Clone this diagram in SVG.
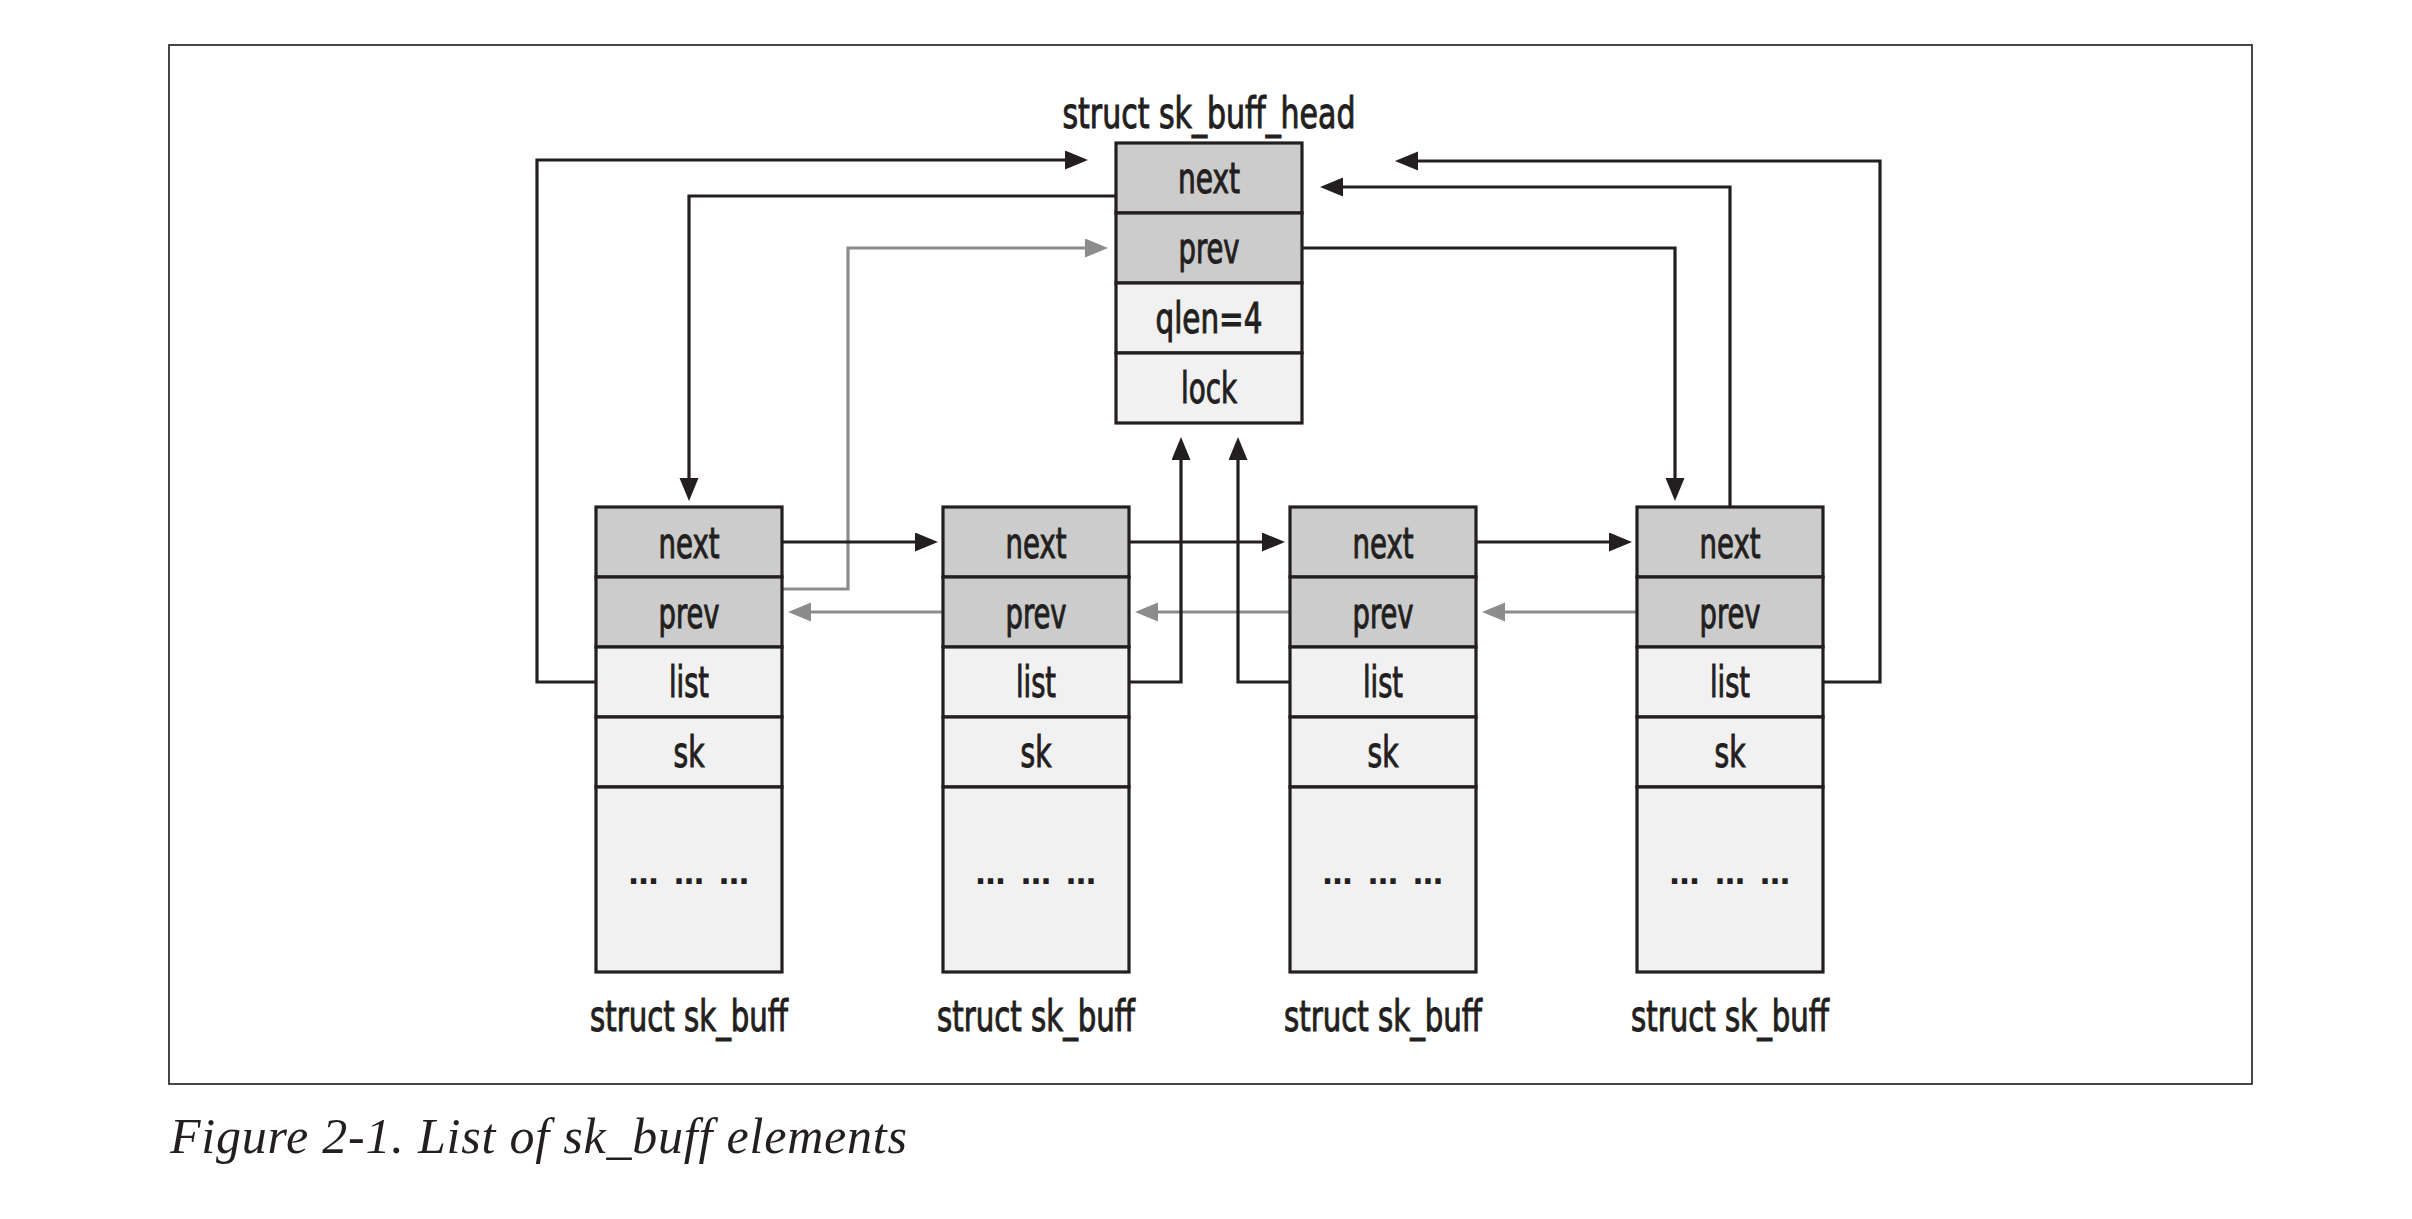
<svg xmlns="http://www.w3.org/2000/svg" width="2412" height="1219" viewBox="0 0 2412 1219">
<style>
.frame{fill:none;stroke:#333;stroke-width:1.8}
.dk{fill:#cccccc;stroke:#231f20;stroke-width:3.2}
.lt{fill:#f1f1f1;stroke:#231f20;stroke-width:3.2}
.t{font-family:"DejaVu Sans Condensed","DejaVu Sans","Liberation Sans Narrow",sans-serif;font-stretch:condensed;font-size:42px;fill:#231f20;stroke:#231f20;stroke-width:1;text-anchor:middle}
.dots{font-family:"DejaVu Sans",sans-serif;font-weight:bold;font-size:30px;fill:#231f20;text-anchor:middle}
.cap{font-family:"Liberation Serif","Times New Roman",serif;font-style:italic;font-size:50px;fill:#231f20}
.b{fill:none;stroke:#231f20;stroke-width:3.2}
.g{fill:none;stroke:#8c8c8c;stroke-width:3.2}
</style>
<defs>
<marker id="ab" markerUnits="userSpaceOnUse" markerWidth="24" markerHeight="20" refX="13" refY="9.5" orient="auto" viewBox="0 0 24 20">
<path d="M0,0 L23,9.5 L0,19 z" fill="#231f20"/>
</marker>
<marker id="ag" markerUnits="userSpaceOnUse" markerWidth="24" markerHeight="20" refX="13" refY="9.5" orient="auto" viewBox="0 0 24 20">
<path d="M0,0 L23,9.5 L0,19 z" fill="#8c8c8c"/>
</marker>
</defs>
<rect class="frame" x="169" y="45" width="2083" height="1039" fill="#fff"/>

<g id="connectors">
<path class="b" d="M596,682 H537 V160 H1078" marker-end="url(#ab)"/>
<path class="b" d="M1116,196 H689 V491" marker-end="url(#ab)"/>
<path class="g" d="M782,589 H848 V248 H1098" marker-end="url(#ag)"/>
<path class="b" d="M782,542 H928" marker-end="url(#ab)"/>
<path class="b" d="M1129,542 H1275" marker-end="url(#ab)"/>
<path class="b" d="M1476,542 H1622" marker-end="url(#ab)"/>
<path class="g" d="M943,612 H798" marker-end="url(#ag)"/>
<path class="g" d="M1290,612 H1145" marker-end="url(#ag)"/>
<path class="g" d="M1637,612 H1492" marker-end="url(#ag)"/>
<path class="b" d="M1129,682 H1181 V447" marker-end="url(#ab)"/>
<path class="b" d="M1290,682 H1238 V447" marker-end="url(#ab)"/>
<path class="b" d="M1302,248 H1675 V491" marker-end="url(#ab)"/>
<path class="b" d="M1730,507 V187 H1330" marker-end="url(#ab)"/>
<path class="b" d="M1823,682 H1880 V161 H1405" marker-end="url(#ab)"/>
</g>

<g id="head">
<text class="t" x="1209" y="128" textLength="293" lengthAdjust="spacingAndGlyphs">struct sk_buff_head</text>
<rect class="dk" x="1116" y="143" width="186" height="70"/>
<rect class="dk" x="1116" y="213" width="186" height="70"/>
<rect class="lt" x="1116" y="283" width="186" height="70"/>
<rect class="lt" x="1116" y="353" width="186" height="70"/>
<text class="t" x="1209" y="193" textLength="62" lengthAdjust="spacingAndGlyphs">next</text>
<text class="t" x="1209" y="263" textLength="61" lengthAdjust="spacingAndGlyphs">prev</text>
<text class="t" x="1209" y="333" textLength="107" lengthAdjust="spacingAndGlyphs">qlen=4</text>
<text class="t" x="1209" y="403" textLength="56" lengthAdjust="spacingAndGlyphs">lock</text>
</g>

<g id="skb1">
<rect class="dk" x="596" y="507" width="186" height="70"/>
<rect class="dk" x="596" y="577" width="186" height="70"/>
<rect class="lt" x="596" y="647" width="186" height="70"/>
<rect class="lt" x="596" y="717" width="186" height="70"/>
<rect class="lt" x="596" y="787" width="186" height="185"/>
<text class="t" x="689" y="558" textLength="61" lengthAdjust="spacingAndGlyphs">next</text>
<text class="t" x="689" y="628" textLength="61" lengthAdjust="spacingAndGlyphs">prev</text>
<text class="t" x="689" y="697" textLength="40" lengthAdjust="spacingAndGlyphs">list</text>
<text class="t" x="689" y="767" textLength="31" lengthAdjust="spacingAndGlyphs">sk</text>
<text class="dots" x="643.5 666 689 711.5 734" y="884">… … …</text>
<text class="t" x="689" y="1031" textLength="198" lengthAdjust="spacingAndGlyphs">struct sk_buff</text>
</g>

<g id="skb2">
<rect class="dk" x="943" y="507" width="186" height="70"/>
<rect class="dk" x="943" y="577" width="186" height="70"/>
<rect class="lt" x="943" y="647" width="186" height="70"/>
<rect class="lt" x="943" y="717" width="186" height="70"/>
<rect class="lt" x="943" y="787" width="186" height="185"/>
<text class="t" x="1036" y="558" textLength="61" lengthAdjust="spacingAndGlyphs">next</text>
<text class="t" x="1036" y="628" textLength="61" lengthAdjust="spacingAndGlyphs">prev</text>
<text class="t" x="1036" y="697" textLength="40" lengthAdjust="spacingAndGlyphs">list</text>
<text class="t" x="1036" y="767" textLength="31" lengthAdjust="spacingAndGlyphs">sk</text>
<text class="dots" x="990.5 1013 1036 1058.5 1081" y="884">… … …</text>
<text class="t" x="1036" y="1031" textLength="198" lengthAdjust="spacingAndGlyphs">struct sk_buff</text>
</g>

<g id="skb3">
<rect class="dk" x="1290" y="507" width="186" height="70"/>
<rect class="dk" x="1290" y="577" width="186" height="70"/>
<rect class="lt" x="1290" y="647" width="186" height="70"/>
<rect class="lt" x="1290" y="717" width="186" height="70"/>
<rect class="lt" x="1290" y="787" width="186" height="185"/>
<text class="t" x="1383" y="558" textLength="61" lengthAdjust="spacingAndGlyphs">next</text>
<text class="t" x="1383" y="628" textLength="61" lengthAdjust="spacingAndGlyphs">prev</text>
<text class="t" x="1383" y="697" textLength="40" lengthAdjust="spacingAndGlyphs">list</text>
<text class="t" x="1383" y="767" textLength="31" lengthAdjust="spacingAndGlyphs">sk</text>
<text class="dots" x="1337.5 1360 1383 1405.5 1428" y="884">… … …</text>
<text class="t" x="1383" y="1031" textLength="198" lengthAdjust="spacingAndGlyphs">struct sk_buff</text>
</g>

<g id="skb4">
<rect class="dk" x="1637" y="507" width="186" height="70"/>
<rect class="dk" x="1637" y="577" width="186" height="70"/>
<rect class="lt" x="1637" y="647" width="186" height="70"/>
<rect class="lt" x="1637" y="717" width="186" height="70"/>
<rect class="lt" x="1637" y="787" width="186" height="185"/>
<text class="t" x="1730" y="558" textLength="61" lengthAdjust="spacingAndGlyphs">next</text>
<text class="t" x="1730" y="628" textLength="61" lengthAdjust="spacingAndGlyphs">prev</text>
<text class="t" x="1730" y="697" textLength="40" lengthAdjust="spacingAndGlyphs">list</text>
<text class="t" x="1730" y="767" textLength="31" lengthAdjust="spacingAndGlyphs">sk</text>
<text class="dots" x="1684.5 1707 1730 1752.5 1775" y="884">… … …</text>
<text class="t" x="1730" y="1031" textLength="198" lengthAdjust="spacingAndGlyphs">struct sk_buff</text>
</g>

<text class="cap" x="170" y="1153" textLength="737">Figure 2-1. List of sk_buff elements</text>
</svg>
